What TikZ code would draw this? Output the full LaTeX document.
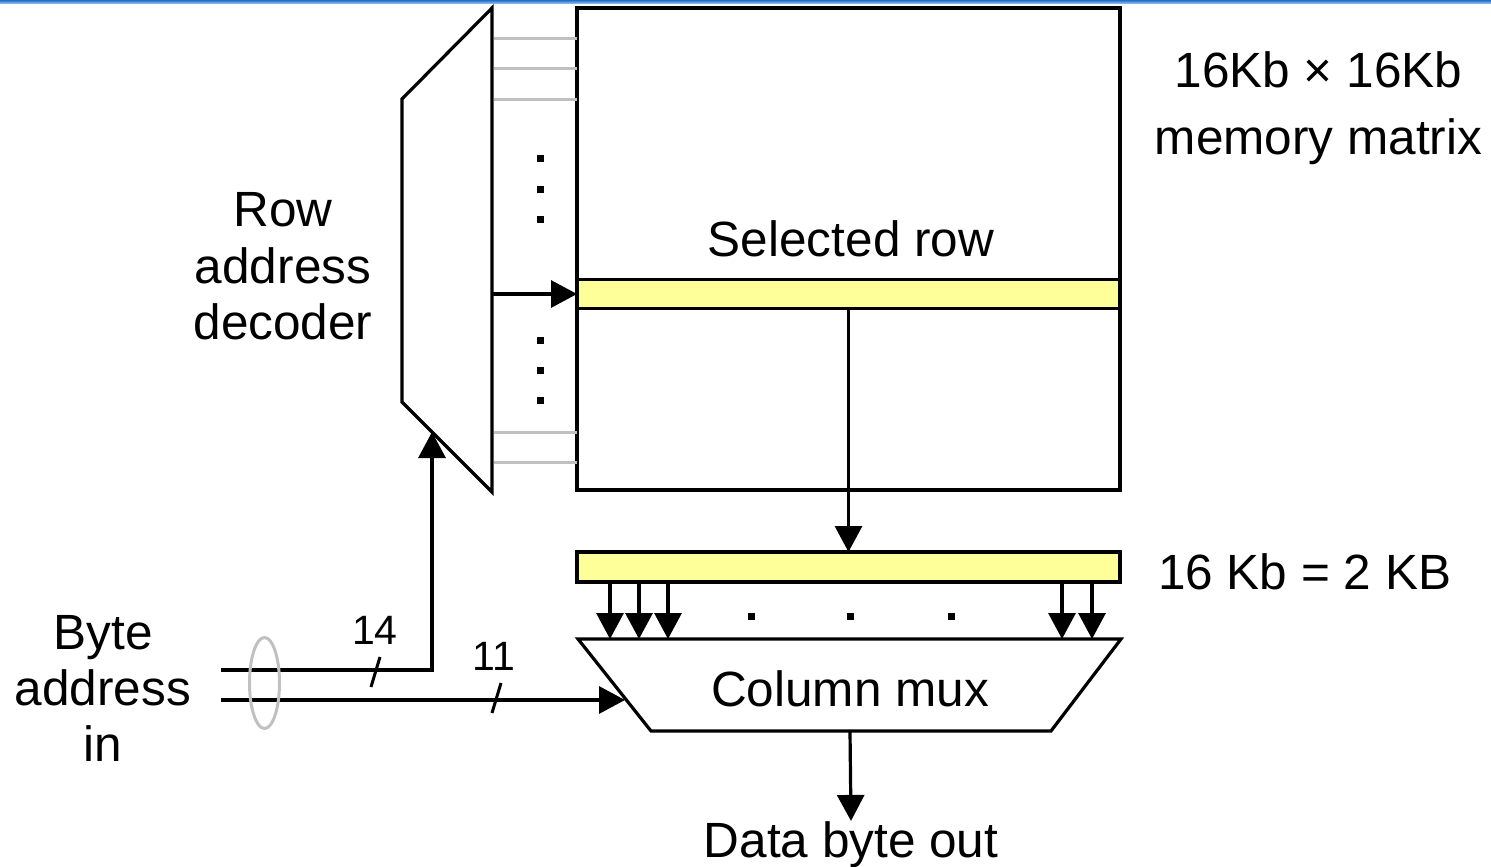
\documentclass[tikz,border=0pt]{standalone}
\usepackage{fontspec}
\setmainfont{Liberation Sans}
\usetikzlibrary{arrows.meta,shapes.geometric}
\definecolor{hiyellow}{HTML}{FFFF99}
\definecolor{busgray}{HTML}{C0C0C0}
\definecolor{topblueA}{HTML}{1F6FC8}
\definecolor{topblueB}{HTML}{A9CBEE}
\tikzset{
  blk/.style={line width=3.2pt, line join=miter},
  arr/.style={line width=3.2pt, -{Triangle[length=26pt,width=27pt]}},
  grayline/.style={line width=3pt, draw=busgray},
  box/.style={draw, line width=3.2pt, inner sep=0pt, outer sep=0pt},
  ybar/.style={box, fill=hiyellow, minimum width=543pt},
  lbl/.style={inner sep=0pt, font=\fontsize{49.5}{56}\selectfont},
  small/.style={inner sep=0pt, font=\fontsize{41}{46}\selectfont},
  dot/.style={fill=black, inner sep=0pt, minimum size=7pt, outer sep=0pt},
}
\begin{document}
\begin{tikzpicture}[x=1pt,y=-1pt]
\useasboundingbox (0,0) rectangle (1491,867);
% top blue rule
\shade[top color=topblueA, bottom color=topblueB] (0,0) rectangle (1491,4);

% memory matrix
\node[box, minimum width=543pt, minimum height=482pt] (mat) at (848.5,249) {};
\node[ybar, minimum height=29pt] (selrow) at (848.5,294) {};
\node[ybar, minimum height=30pt] (bar) at (848.5,567) {};

% row decoder
\coordinate (decTL) at (402,99);
\coordinate (decTR) at (492,8);
\coordinate (decBR) at (492,492);
\coordinate (decBL) at (402,402);
\draw[blk] (decTL) -- (decTR) -- (decBR) -- (decBL) -- cycle;
\coordinate (decout) at (492,294);
\coordinate (decin) at (432,432);

% gray word lines
\foreach \y in {39,69,99,432,462}
  \draw[grayline] (494,\y) -- (mat.west |- 0,\y);

% vertical dots in matrix
\foreach \y [count=\i] in {158,189,219,340,370,400}
  \node[dot] (vd\i) at (540,\y) {};

% selected row arrow
\draw[arr] (decout) -- (selrow.west);
\draw[arr] (selrow.south) -- (bar.north);

% column mux
\coordinate (muxTL) at (578,639);
\coordinate (muxTR) at (1121,639);
\coordinate (muxBR) at (1051,731);
\coordinate (muxBL) at (651,731);
\draw[blk] (muxTL) -- (muxTR) -- (muxBR) -- (muxBL) -- cycle;
\node[lbl, anchor=base] (muxlbl) at (850,706) {Column mux};
\coordinate (muxout) at (850,731);
\coordinate (muxin) at (625,700);

\foreach \x in {610,639,668,1062,1092}
  \draw[arr] (\x,0 |- bar.south) -- (\x,0 |- muxTL);
\foreach \x [count=\i] in {751,850,951}
  \node[dot] (hd\i) at (\x,616) {};

% output
\node[lbl, anchor=base] (dout) at (851,857) {Data byte out};
\draw[arr] (muxout) -- (dout.north);

% inputs
\coordinate (in1) at (221,670);
\coordinate (in2) at (221,700);
\draw[arr] (in1) -| (decin);
\draw[arr] (in2) -- (muxin);
\node[draw=busgray, line width=3pt, ellipse, inner sep=0pt, minimum width=30pt, minimum height=91pt] (bus) at (264.5,683) {};
\draw[line width=3pt] (371,687) -- (380,657);
\draw[line width=3pt] (492,713) -- (501,683);
\node[small, anchor=base] (n14) at (375,644) {14};
\node[small, anchor=base] (n11) at (494,670) {11};

% labels
\node[lbl, anchor=base] (row1) at (283,226) {Row};
\node[lbl, anchor=base] (row2) at (283,283) {address};
\node[lbl, anchor=base] (row3) at (283,339) {decoder};
\node[lbl, anchor=base] (byte1) at (103,649) {Byte};
\node[lbl, anchor=base] (byte2) at (103,705) {address};
\node[lbl, anchor=base] (byte3) at (103,761) {in};
\node[lbl, anchor=base] (sel) at (851,256) {Selected row};
\node[lbl, anchor=base] (mm1) at (1318.5,87) {16Kb × 16Kb};
\node[lbl, anchor=base] (mm2) at (1318.5,154) {memory matrix};
\node[lbl, anchor=base west] (kb) at (1158,589) {16 Kb = 2 KB};
\end{tikzpicture}
\end{document}
